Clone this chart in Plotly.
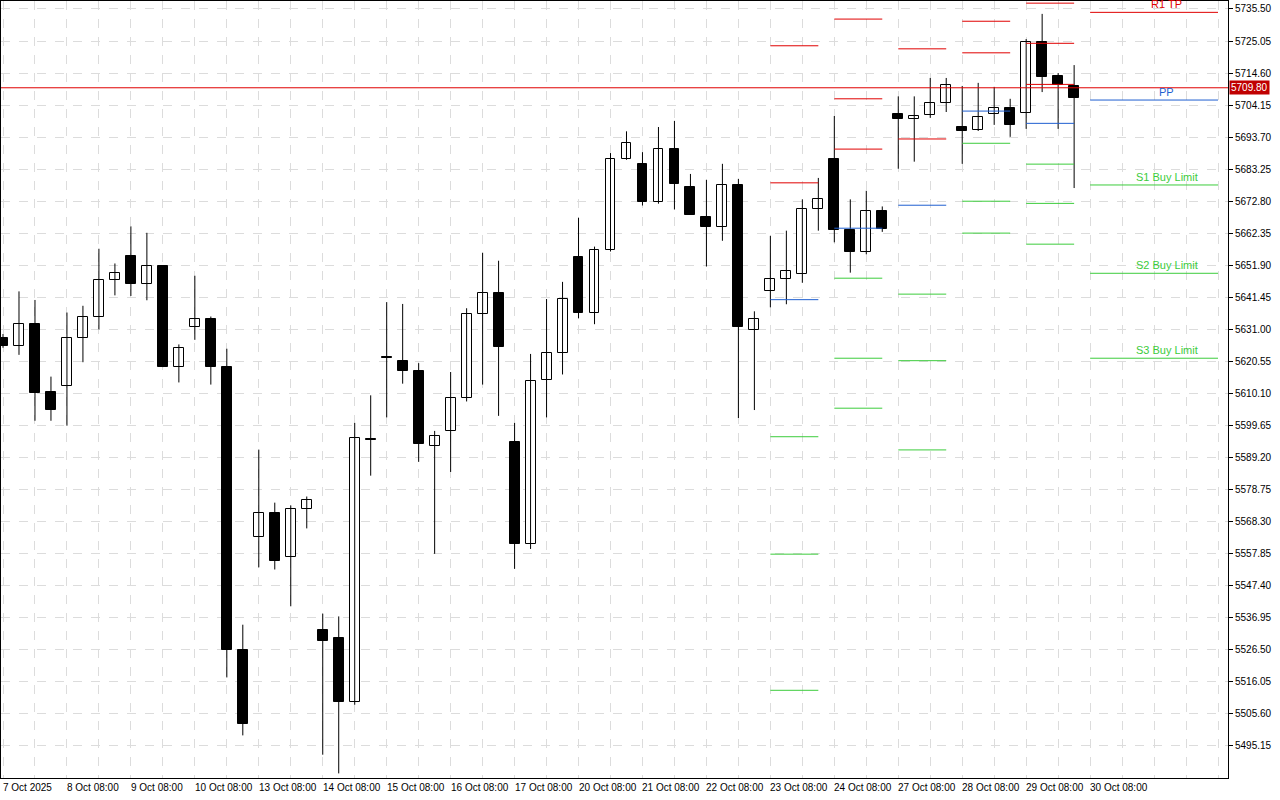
import plotly.graph_objects as go

# ---- candle data (H4, index 0 = 7 Oct 2025) ----
opens = [5628.3,5625.5,5632.8,5610.6,5612.6,5628.2,5635.1,5647.1,5654.8,5645.7,
         5651.8,5618.7,5631.8,5634.4,5618.9,5526.5,5563.3,5571.1,5556.8,5572.4,
         5532.9,5530.5,5509.4,5595.4,5621.7,5620.6,5617.3,5592.9,5598.0,5608.5,
         5636.0,5642.9,5594.4,5561.1,5614.4,5623.4,5654.6,5636.5,5656.9,5686.6,
         5685.0,5672.4,5689.9,5677.3,5667.8,5664.5,5678.0,5630.9,5643.5,5647.6,
         5649.2,5670.4,5686.7,5663.3,5656.4,5669.7,5701.1,5699.6,5700.9,5704.7,
         5697.0,5696.0,5701.3,5703.2,5701.6,5724.7,5713.7,5710.4]
highs = [5629.5,5643.4,5640.6,5615.6,5636.5,5638.7,5657.3,5652.5,5664.6,5662.5,
         5651.8,5626.1,5648.5,5635.2,5624.7,5534.7,5591.8,5574.5,5573.6,5576.5,
         5538.3,5537.4,5600.5,5609.5,5639.9,5639.3,5620.0,5597.9,5617.1,5637.9,
         5656.0,5653.4,5600.5,5623.0,5640.9,5646.5,5667.4,5658.0,5688.5,5695.6,
         5688.8,5697.0,5699.0,5681.7,5679.8,5685.0,5680.1,5636.9,5661.5,5663.2,
         5673.4,5680.4,5700.6,5673.4,5676.2,5671.1,5707.0,5707.0,5713.0,5713.0,
         5710.4,5711.4,5710.1,5706.2,5725.7,5733.9,5714.6,5717.2]
lows = [5625.0,5622.7,5601.2,5601.2,5599.6,5620.3,5631.0,5642.1,5641.9,5640.5,
        5618.7,5613.7,5627.6,5613.0,5517.5,5498.6,5553.4,5552.7,5540.7,5566.1,
        5492.3,5486.2,5508.6,5583.3,5602.3,5613.3,5587.8,5557.8,5584.5,5607.5,
        5613.0,5602.8,5552.9,5559.4,5602.3,5616.3,5634.6,5632.7,5656.4,5686.3,
        5671.4,5672.0,5670.1,5668.4,5651.5,5659.9,5602.1,5604.7,5638.2,5639.2,
        5646.2,5663.2,5659.4,5649.5,5655.5,5662.8,5683.4,5685.7,5700.0,5701.9,
        5685.0,5695.7,5697.7,5693.8,5696.4,5708.4,5696.4,5677.1]
closes = [5625.5,5632.8,5610.4,5604.6,5628.2,5635.1,5647.1,5649.4,5645.7,5651.8,
          5618.7,5624.9,5634.4,5618.7,5526.3,5502.4,5571.1,5555.6,5572.4,5575.3,
          5529.5,5509.4,5595.5,5595.0,5621.7,5617.3,5593.7,5596.1,5608.5,5636.0,
          5642.8,5625.1,5561.1,5614.1,5623.4,5640.8,5636.5,5656.9,5686.6,5691.8,
          5672.4,5689.9,5678.3,5668.4,5664.5,5678.0,5631.9,5634.3,5647.6,5650.0,
          5670.4,5673.4,5663.3,5656.4,5669.7,5663.8,5699.6,5700.6,5704.7,5710.8,
          5695.7,5700.3,5703.2,5697.7,5724.7,5713.3,5710.7,5706.5]

# ---- x labels ----
day_label_idx = [0,4,8,12,16,20,24,28,32,36,40,44,48,52,56,60,64,68]
day_labels = ["7 Oct 2025","8 Oct 08:00","9 Oct 08:00","10 Oct 08:00","13 Oct 08:00",
              "14 Oct 08:00","15 Oct 08:00","16 Oct 08:00","17 Oct 08:00","20 Oct 08:00",
              "21 Oct 08:00","22 Oct 08:00","23 Oct 08:00","24 Oct 08:00","27 Oct 08:00",
              "28 Oct 08:00","29 Oct 08:00","30 Oct 08:00"]

# ---- y ticks ----
ytick_vals = [5495.15,5505.60,5516.05,5526.50,5536.95,5547.40,5557.85,5568.30,5578.75,
              5589.20,5599.65,5610.10,5620.55,5631.00,5641.45,5651.90,5662.35,5672.80,
              5683.25,5693.70,5704.15,5714.60,5725.05,5735.50]

# ---- pivot levels per day (start index, end index) ----
piv_start = [48, 52, 56, 60, 64]
piv_end = [51, 55, 59, 63, 67]
piv_res = [[5723.5, 5678.8], [5732.2, 5706.2, 5689.8], [5722.5, 5693.1],
           [5731.5, 5721.2], [5737.4, 5724.3, 5710.9]]
piv_pp = [5640.7, 5664.0, 5671.5, 5702.2, 5698.2]
piv_sup = [[5596.0, 5557.7, 5513.3], [5647.7, 5621.6, 5605.3], [5642.5, 5620.8, 5591.7],
           [5691.7, 5672.8, 5662.4], [5684.9, 5672.1, 5658.8]]

# ---- current day levels ----
cur_start, cur_end = 68, 76
cur_label_x = 72.8
cur_names = ["R1 TP", "PP", "S1 Buy Limit", "S2 Buy Limit", "S3 Buy Limit"]
cur_levels = [5734.4, 5705.8, 5678.1, 5649.3, 5621.6]
cur_colors = ["#e00000", "#1f5fd0", "#3ccc3c", "#3ccc3c", "#3ccc3c"]
last_price = 5709.80

FONT = "Liberation Sans"
fig = go.Figure()
x_idx = list(range(len(opens)))

# wicks
wx, wy = [], []
for i, h, l in zip(x_idx, highs, lows):
    wx += [i, i, None]
    wy += [l, h, None]
fig.add_trace(go.Scatter(x=wx, y=wy, mode="lines", line=dict(color="black", width=1),
                         showlegend=False, hoverinfo="skip"))
# bodies
base = [min(o, c) for o, c in zip(opens, closes)]
size = [max(abs(c - o), 0.35) for o, c in zip(opens, closes)]
fill = ["white" if c > o else "black" for o, c in zip(opens, closes)]
fig.add_trace(go.Bar(x=x_idx, y=size, base=base, width=0.62,
                     marker=dict(color=fill, line=dict(color="black", width=1)),
                     showlegend=False, hoverinfo="skip"))

def seg_trace(levels_list, color):
    xs, ys = [], []
    for s, e, lv in zip(piv_start, piv_end, levels_list):
        for v in (lv if isinstance(lv, list) else [lv]):
            xs += [s, e, None]
            ys += [v, v, None]
    return go.Scatter(x=xs, y=ys, mode="lines", line=dict(color=color, width=1),
                      showlegend=False, hoverinfo="skip")

fig.add_trace(seg_trace(piv_res, "#e00000"))
fig.add_trace(seg_trace(piv_pp, "#1f5fd0"))
fig.add_trace(seg_trace(piv_sup, "#3ccc3c"))

for name, lv, col in zip(cur_names, cur_levels, cur_colors):
    fig.add_trace(go.Scatter(x=[cur_start, cur_end], y=[lv, lv], mode="lines",
                             line=dict(color=col, width=1), showlegend=False, hoverinfo="skip"))
    fig.add_annotation(x=cur_label_x, y=lv, text=name, showarrow=False,
                       yanchor="bottom", yshift=0, font=dict(color=col, size=11, family=FONT))

fig.add_shape(type="line", xref="paper", x0=0, x1=1, y0=last_price, y1=last_price,
              line=dict(color="#e00000", width=1))
fig.add_annotation(xref="paper", x=1.0, y=last_price, text=f"{last_price:.2f}", showarrow=False,
                   xanchor="left", bgcolor="#c00000", font=dict(color="white", size=10, family=FONT),
                   borderpad=1, xshift=1)

for i, lab in zip(day_label_idx, day_labels):
    fig.add_annotation(x=i, yref="paper", y=0, text=lab, showarrow=False, xanchor="left",
                       yanchor="top", yshift=-2, xshift=-2,
                       font=dict(size=10, color="black", family=FONT))

fig.update_layout(
    width=1280, height=800, margin=dict(l=1, r=52, t=1, b=22, autoexpand=False),
    paper_bgcolor="white", plot_bgcolor="white", bargap=0,
    xaxis=dict(range=[-0.125, 76.625], showticklabels=False, automargin=False,
               tick0=0, dtick=2, showgrid=True, gridcolor="#dcdcdc", griddash="dash",
               zeroline=False, showline=True, mirror=True, linecolor="black", ticks=""),
    yaxis=dict(range=[5484.7, 5738.1], side="right", tickvals=ytick_vals, automargin=False,
               ticktext=[f"{v:.2f}" for v in ytick_vals], showgrid=True, gridcolor="#dcdcdc",
               griddash="dash", zeroline=False, showline=True, mirror=True, linecolor="black",
               ticks="outside", ticklen=4, tickcolor="black",
               tickfont=dict(size=10, color="black", family=FONT)),
)
fig.write_html("out.html", config={"displayModeBar": False},
               post_script="document.body.style.margin='0';document.body.style.overflow='hidden';")
